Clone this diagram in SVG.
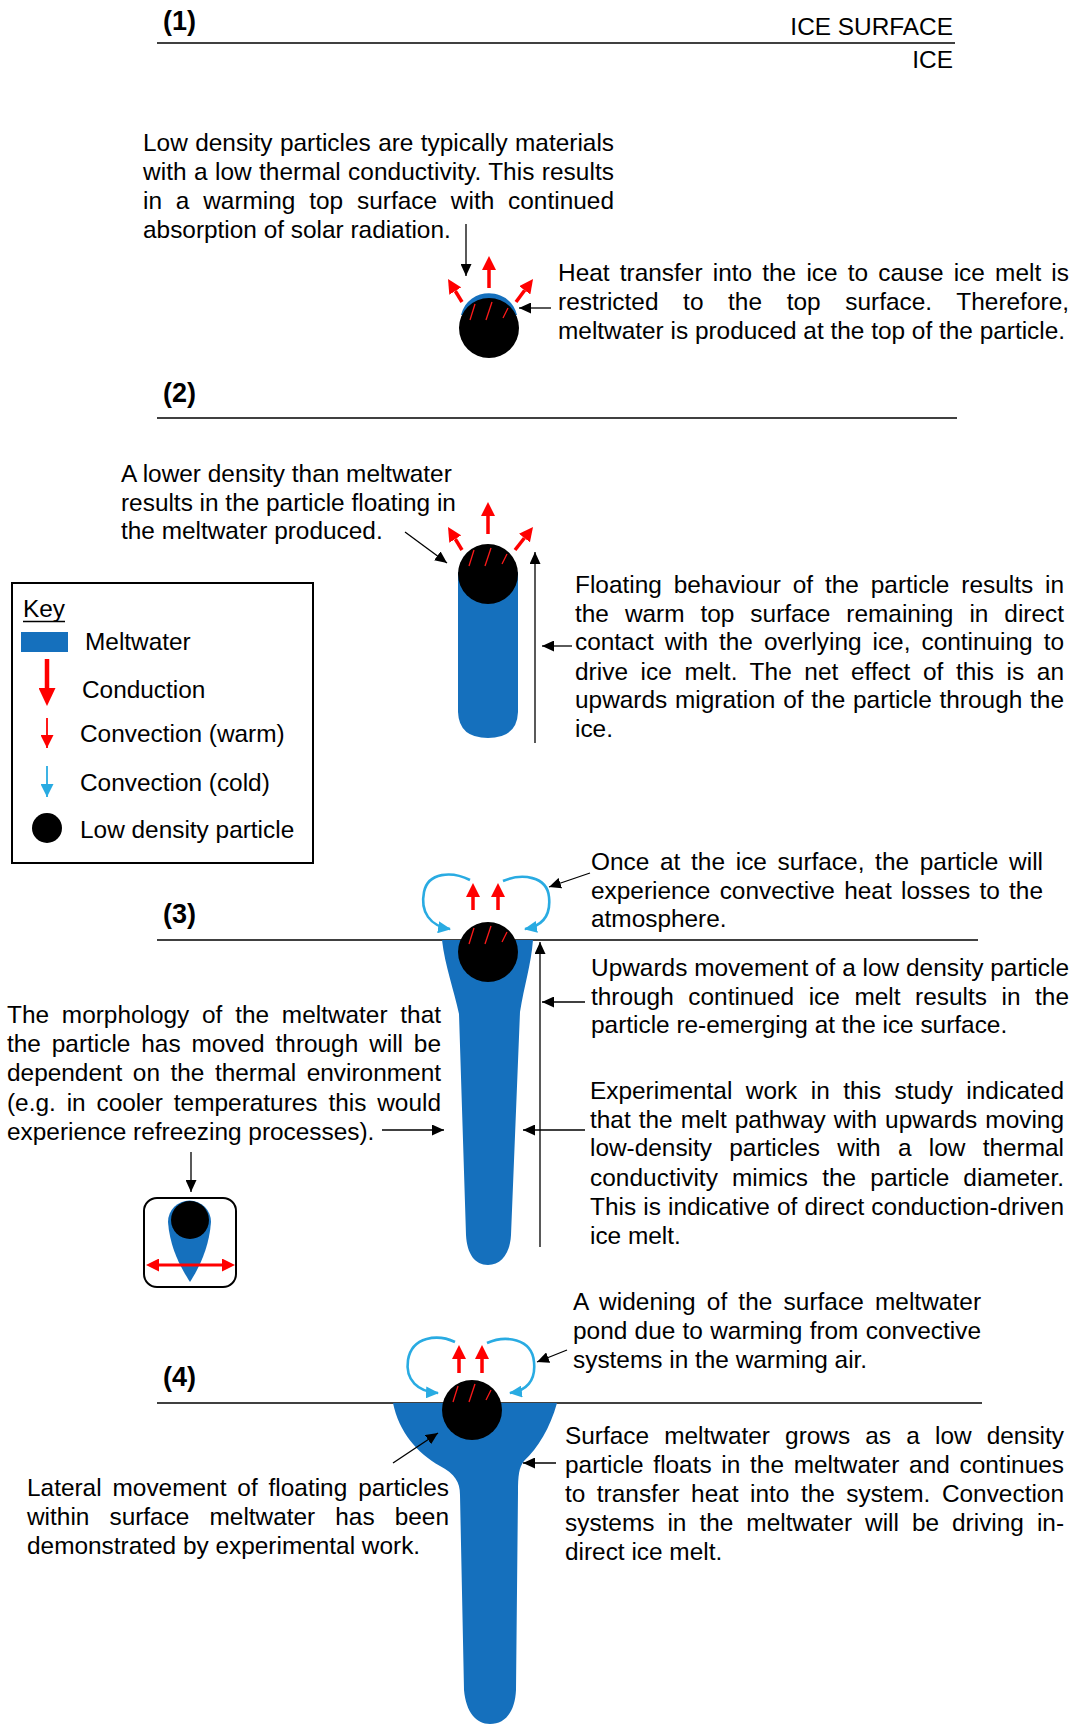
<svg xmlns="http://www.w3.org/2000/svg" width="1078" height="1724" viewBox="0 0 1078 1724">
  <style>
    text { font-family: "Liberation Sans", Arial, sans-serif; font-size: 24.4px; fill: #000; }
    .lbl { font-weight: bold; font-size: 27px; }
    .surf { stroke: #000; stroke-width: 1.3; fill: none; }
    .ptr { stroke: #000; stroke-width: 1.3; fill: none; marker-end: url(#ah); }
    .warm { stroke: #ff0000; stroke-width: 3.5; fill: none; marker-end: url(#rh); }
    .cold { stroke: #29abe2; stroke-width: 2.6; fill: none; marker-end: url(#ch); }
    .melt { fill: #1570bd; }
    .hatch line { stroke: #ff1a1a; stroke-width: 1.3; }
  </style>
  <defs>
    <marker id="ah" markerUnits="userSpaceOnUse" markerWidth="12" markerHeight="11" refX="12" refY="5.5" orient="auto">
      <path d="M0,0 L12,5.5 L0,11 Z" fill="#000"/>
    </marker>
    <marker id="rh" markerUnits="userSpaceOnUse" markerWidth="14" markerHeight="14" refX="0" refY="7" orient="auto">
      <path d="M0,0 L14,7 L0,14 Z" fill="#ff0000"/>
    </marker>
    <marker id="rh2" markerUnits="userSpaceOnUse" markerWidth="13" markerHeight="13" refX="0" refY="6.5" orient="auto-start-reverse">
      <path d="M0,0 L13,6.5 L0,13 Z" fill="#ff0000"/>
    </marker>
    <marker id="ch" markerUnits="userSpaceOnUse" markerWidth="13" markerHeight="12" refX="12" refY="6" orient="auto">
      <path d="M0,0 L13,6 L0,12 Z" fill="#29abe2"/>
    </marker>
    <marker id="kh" markerUnits="userSpaceOnUse" markerWidth="18" markerHeight="17" refX="0" refY="8.5" orient="auto">
      <path d="M0,0 L18,8.5 L0,17 Z" fill="#ff0000"/>
    </marker>
    <marker id="rhs" markerUnits="userSpaceOnUse" markerWidth="13" markerHeight="13" refX="13" refY="6.5" orient="auto">
      <path d="M0,0 L13,6.5 L0,13 Z" fill="#ff0000"/>
    </marker>
    <marker id="chs" markerUnits="userSpaceOnUse" markerWidth="13" markerHeight="13" refX="13" refY="6.5" orient="auto">
      <path d="M0,0 L13,6.5 L0,13 Z" fill="#29abe2"/>
    </marker>
    <!-- warm-spot streaks on the top of a particle, relative to its centre -->
    <g id="streaks" class="hatch">
      <line x1="-19" y1="-8" x2="-14" y2="-24"/>
      <line x1="-3" y1="-8" x2="3" y2="-26"/>
      <line x1="14" y1="-10" x2="19" y2="-20"/>
    </g>
  </defs>

  <!-- ice surface lines and stage labels -->
  <g id="surfaces">
    <line class="surf" x1="157" y1="43" x2="955" y2="43"/>
    <line class="surf" x1="157" y1="418" x2="957" y2="418"/>
    <line class="surf" x1="157" y1="940" x2="978" y2="940"/>
    <line class="surf" x1="157" y1="1403" x2="982" y2="1403"/>
  </g>
  <g id="labels">
    <text class="lbl" x="163" y="30">(1)</text>
    <text class="lbl" x="163" y="402">(2)</text>
    <text class="lbl" x="163" y="923">(3)</text>
    <text class="lbl" x="163" y="1386">(4)</text>
    <text x="953" y="35" text-anchor="end">ICE SURFACE</text>
    <text x="953" y="68" text-anchor="end">ICE</text>
  </g>

  <!-- stage 1: particle with thin melt cap -->
  <g id="particle1">
    <path class="melt" d="M461,315 C468,286 510,286 517,315 Z"/>
    <circle cx="489" cy="328" r="30" fill="#000"/>
    <use href="#streaks" x="489" y="328"/>
  </g>

  <!-- stage 2: floating particle in a melt column -->
  <g id="particle2">
    <path class="melt" d="M458,572 L458,712 Q459,738 488,738 Q517,738 518,712 L518,572 Z"/>
    <circle cx="488" cy="574" r="30" fill="#000"/>
    <use href="#streaks" x="488" y="574"/>
  </g>

  <!-- stage 3: particle re-emerged at the surface -->
  <g id="particle3">
    <path class="melt" d="M442,940 L533,940 C531,965 524,986 520,1012 L511,1235 C510,1254 501,1265 488,1265 C475,1265 467,1254 466,1235 L459,1014 C454,990 445,966 442,940 Z"/>
    <circle cx="488" cy="952" r="30" fill="#000"/>
    <use href="#streaks" x="488" y="952"/>
  </g>

  <!-- stage 4: widened surface pond -->
  <g id="particle4">
    <path class="melt" d="M393,1403 L557,1403 C550,1428 538,1448 524,1461 C519,1467 518,1476 518,1492 L516,1690 C515,1712 505,1724 490,1724 C476,1724 466,1712 464,1690 L460,1495 C460,1482 455,1474 440,1466 C417,1453 399,1432 393,1403 Z"/>
    <circle cx="472" cy="1410" r="30" fill="#000"/>
    <use href="#streaks" x="472" y="1410"/>
  </g>

  <!-- refreezing inset -->
  <g id="inset">
    <rect x="144" y="1198" width="92" height="89" rx="13" fill="#fff" stroke="#000" stroke-width="2"/>
    <path class="melt" d="M168,1222 C170,1250 183,1271 190,1282 C197,1271 209,1250 211,1222 A21.5,21.5 0 0 0 168,1222 Z"/>
    <circle cx="190" cy="1220" r="19" fill="#000"/>
    <line x1="159" y1="1265" x2="222" y2="1265" stroke="#ff0000" stroke-width="3" marker-start="url(#rh2)" marker-end="url(#rh2)"/>
  </g>

  <!-- key -->
  <g id="key">
    <rect x="12" y="583" width="301" height="280" fill="none" stroke="#000" stroke-width="2"/>
    <text x="23" y="617">Key</text>
    <line x1="23" y1="621.5" x2="65" y2="621.5" stroke="#000" stroke-width="1.5"/>
    <rect x="21" y="632" width="47" height="20" class="melt"/>
    <text x="85" y="650">Meltwater</text>
    <line x1="47" y1="659" x2="47" y2="688" stroke="#ff0000" stroke-width="4.5" marker-end="url(#kh)"/>
    <text x="82" y="698">Conduction</text>
    <line x1="47" y1="718" x2="47" y2="748" stroke="#ff0000" stroke-width="1.8" marker-end="url(#rhs)"/>
    <text x="80" y="742">Convection (warm)</text>
    <line x1="47" y1="766" x2="47" y2="797" stroke="#29abe2" stroke-width="1.8" marker-end="url(#chs)"/>
    <text x="80" y="791">Convection (cold)</text>
    <circle cx="47" cy="828" r="15" fill="#000"/>
    <text x="80" y="838">Low density particle</text>
  </g>

  <!-- annotation texts -->
  <g id="note-warming">
    <text x="143" y="151" textLength="471" lengthAdjust="spacing" word-spacing="0.6">Low density particles are typically materials</text>
    <text x="143" y="180" textLength="471" lengthAdjust="spacing" word-spacing="0.5">with a low thermal conductivity. This results</text>
    <text x="143" y="208.5" textLength="471" lengthAdjust="spacing" word-spacing="7">in a warming top surface with continued</text>
    <text x="143" y="237.5">absorption of solar radiation.</text>
  </g>
  <g id="note-heat-transfer">
    <text x="558" y="281" textLength="511" lengthAdjust="spacing" word-spacing="3.4">Heat transfer into the ice to cause ice melt is</text>
    <text x="558" y="310" textLength="511" lengthAdjust="spacing" word-spacing="17.8">restricted to the top surface. Therefore,</text>
    <text x="558" y="339">meltwater is produced at the top of the particle.</text>
  </g>
  <g id="note-density">
    <text x="121" y="482">A lower density than meltwater</text>
    <text x="121" y="510.5">results in the particle floating in</text>
    <text x="121" y="539">the meltwater produced.</text>
  </g>
  <g id="note-floating">
    <text x="575" y="593" textLength="489" lengthAdjust="spacing" word-spacing="5.1">Floating behaviour of the particle results in</text>
    <text x="575" y="621.5" textLength="489" lengthAdjust="spacing" word-spacing="9.2">the warm top surface remaining in direct</text>
    <text x="575" y="650" textLength="489" lengthAdjust="spacing" word-spacing="4.2">contact with the overlying ice, continuing to</text>
    <text x="575" y="679.5" textLength="489" lengthAdjust="spacing" word-spacing="5.8">drive ice melt. The net effect of this is an</text>
    <text x="575" y="708" textLength="489" lengthAdjust="spacing" word-spacing="1">upwards migration of the particle through the</text>
    <text x="575" y="737">ice.</text>
  </g>
  <g id="note-surface-loss">
    <text x="591" y="870" textLength="452" lengthAdjust="spacing" word-spacing="3.9">Once at the ice surface, the particle will</text>
    <text x="591" y="898.5" textLength="452" lengthAdjust="spacing" word-spacing="2.5">experience convective heat losses to the</text>
    <text x="591" y="927">atmosphere.</text>
  </g>
  <g id="note-upwards">
    <text x="591" y="976" textLength="478" lengthAdjust="spacing">Upwards movement of a low density particle</text>
    <text x="591" y="1004.5" textLength="478" lengthAdjust="spacing" word-spacing="7.8">through continued ice melt results in the</text>
    <text x="591" y="1033">particle re-emerging at the ice surface.</text>
  </g>
  <g id="note-experimental">
    <text x="590" y="1099" textLength="474" lengthAdjust="spacing" word-spacing="6.7">Experimental work in this study indicated</text>
    <text x="590" y="1127.5" textLength="474" lengthAdjust="spacing" word-spacing="1.2">that the melt pathway with upwards moving</text>
    <text x="590" y="1156" textLength="474" lengthAdjust="spacing" word-spacing="10.5">low-density particles with a low thermal</text>
    <text x="590" y="1185.5" textLength="474" lengthAdjust="spacing" word-spacing="7.3">conductivity mimics the particle diameter.</text>
    <text x="590" y="1214.5" textLength="474" lengthAdjust="spacing" word-spacing="0.4">This is indicative of direct conduction-driven</text>
    <text x="590" y="1243.5">ice melt.</text>
  </g>
  <g id="note-morphology">
    <text x="7" y="1023" textLength="434" lengthAdjust="spacing" word-spacing="6">The morphology of the meltwater that</text>
    <text x="7" y="1052" textLength="434" lengthAdjust="spacing" word-spacing="4.1">the particle has moved through will be</text>
    <text x="7" y="1081" textLength="434" lengthAdjust="spacing" word-spacing="3.7">dependent on the thermal environment</text>
    <text x="7" y="1110.5" textLength="434" lengthAdjust="spacing" word-spacing="4.1">(e.g. in cooler temperatures this would</text>
    <text x="7" y="1139.5">experience refreezing processes).</text>
  </g>
  <g id="note-widening">
    <text x="573" y="1310" textLength="408" lengthAdjust="spacing" word-spacing="4.3">A widening of the surface meltwater</text>
    <text x="573" y="1339" textLength="408" lengthAdjust="spacing" word-spacing="0.5">pond due to warming from convective</text>
    <text x="573" y="1368">systems in the warming air.</text>
  </g>
  <g id="note-pond">
    <text x="565" y="1443.5" textLength="499" lengthAdjust="spacing" word-spacing="8.4">Surface meltwater grows as a low density</text>
    <text x="565" y="1472.5" textLength="499" lengthAdjust="spacing" word-spacing="2.9">particle floats in the meltwater and continues</text>
    <text x="565" y="1501.5" textLength="499" lengthAdjust="spacing" word-spacing="4.7">to transfer heat into the system. Convection</text>
    <text x="565" y="1531" textLength="499" lengthAdjust="spacing" word-spacing="6.2">systems in the meltwater will be driving in-</text>
    <text x="565" y="1560">direct ice melt.</text>
  </g>
  <g id="note-lateral">
    <text x="27" y="1495.5" textLength="422" lengthAdjust="spacing" word-spacing="4.1">Lateral movement of floating particles</text>
    <text x="27" y="1525" textLength="422" lengthAdjust="spacing" word-spacing="13.3">within surface meltwater has been</text>
    <text x="27" y="1553.5">demonstrated by experimental work.</text>
  </g>

  <!-- connectors: pointers, heat-flow and convection arrows -->
  <g id="connectors">
    <path class="ptr" d="M466,224 L466,276"/>
    <path class="ptr" d="M551,308 L519,308"/>
    <path class="ptr" d="M405,532 L447,563"/>
    <path class="ptr" d="M535,743 L535,552"/>
    <path class="ptr" d="M572,646 L542,646"/>
    <path class="ptr" d="M590,873 L549,887"/>
    <path class="ptr" d="M540,1247 L540,942"/>
    <path class="ptr" d="M585,1002 L542,1002"/>
    <path class="ptr" d="M585,1130 L523,1130"/>
    <path class="ptr" d="M382,1130 L444,1130"/>
    <path class="ptr" d="M191,1152 L191,1192"/>
    <path class="ptr" d="M567,1350 L537,1362"/>
    <path class="ptr" d="M556,1463 L523,1463"/>
    <path class="ptr" d="M393,1463 L438,1433"/>

    <path class="warm" d="M489,288 L489,270"/>
    <path class="warm" d="M462,302 L455.3,291"/>
    <path class="warm" d="M516,302 L524.7,290.3"/>
    <path class="warm" d="M488,534 L488,516"/>
    <path class="warm" d="M462,550 L455.3,539"/>
    <path class="warm" d="M515,550 L524.4,538"/>
    <path class="warm" d="M473,910 L473,897"/>
    <path class="warm" d="M498,910 L498,897"/>
    <path class="warm" d="M459,1373 L459,1359"/>
    <path class="warm" d="M482,1373 L482,1359"/>

    <path class="cold" d="M470,880 C452,871 428,872 424,892 C420,912 430,926 450,929"/>
    <path class="cold" d="M503,881 C522,873 547,876 549,897 C551,916 542,926 525,929"/>
    <path class="cold" d="M455,1342 C438,1334 412,1336 408,1360 C405,1380 418,1392 438,1393"/>
    <path class="cold" d="M487,1343 C505,1335 532,1338 534,1362 C536,1381 526,1391 510,1393"/>
  </g>
</svg>
